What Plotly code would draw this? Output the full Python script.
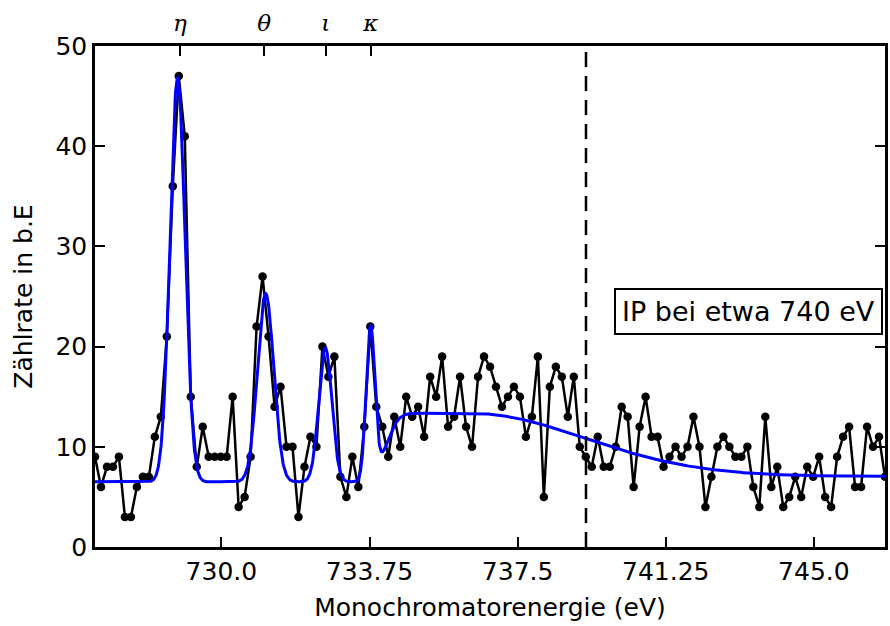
import math
import numpy as np
import plotly.graph_objects as go

# ---- measured data (counts per channel) ----
energy_start = 726.8
energy_stop = 746.8
counts = [9, 6, 8, 8, 9, 3, 3, 6, 7, 7,
          11, 13, 21, 36, 47, 41, 15, 8, 12, 9,
          9, 9, 9, 15, 4, 5, 9, 22, 27, 21,
          14, 16, 10, 10, 3, 8, 11, 10, 20, 17,
          19, 7, 5, 9, 6, 12, 22, 14, 12, 9,
          13, 10, 15, 13, 14, 11, 17, 15, 19, 12,
          13, 17, 12, 10, 17, 19, 18, 16, 14, 15,
          16, 15, 11, 13, 19, 5, 16, 18, 17, 13,
          17, 10, 9, 8, 11, 8, 8, 10, 14, 13,
          6, 12, 15, 11, 11, 8, 9, 10, 9, 10,
          13, 10, 4, 7, 10, 11, 10, 9, 9, 10,
          6, 4, 13, 6, 8, 4, 5, 7, 5, 8,
          7, 9, 5, 4, 9, 11, 12, 6, 6, 12,
          10, 11, 7]
energy = np.linspace(energy_start, energy_stop, len(counts))

# ---- fit parameters ----
fit_baseline = 6.5
peak_centers = [728.89, 731.12, 732.63, 733.775]
peak_heights = [40.3, 18.8, 13.4, 15.2]
peak_sigmas = [0.19, 0.205, 0.165, 0.11]
edge_position = 734.15
edge_width = 0.35
edge_step = 0.55
hump_height = 6.3
hump_center = 736.3
hump_sigma = 2.9

# ---- annotations ----
peak_labels = ["η", "θ", "ι", "κ"]
peak_label_positions = [728.95, 731.08, 732.64, 733.78]
ip_energy = 739.23
ip_text = "IP bei etwa 740 eV"
ip_box_x = 743.35
ip_box_y = 23.5
x_tickvals = [730.0, 733.75, 737.5, 741.25, 745.0]
x_ticktext = ["730.0", "733.75", "737.5", "741.25", "745.0"]

fit_x = np.linspace(energy_start, energy_stop, 2000)
fit_y = np.full_like(fit_x, fit_baseline)
for c, h, s in zip(peak_centers, peak_heights, peak_sigmas):
    fit_y += h * np.exp(-(fit_x - c) ** 2 / (2 * s ** 2))
step = 0.5 * (1 + np.array([math.erf((e - edge_position) / edge_width) for e in fit_x]))
decay = np.where(fit_x < hump_center, 1.0,
                 np.exp(-(fit_x - hump_center) ** 2 / (2 * hump_sigma ** 2)))
fit_y += step * (edge_step + hump_height * decay)

FONT = "DejaVu Sans"
fig = go.Figure()
fig.add_trace(go.Scatter(x=energy, y=counts, mode="lines+markers",
                         line=dict(color="black", width=2.5),
                         marker=dict(color="black", size=8.5),
                         showlegend=False, hoverinfo="skip"))
fig.add_trace(go.Scatter(x=fit_x, y=fit_y, mode="lines",
                         line=dict(color="#0000ff", width=3),
                         showlegend=False, hoverinfo="skip"))
fig.add_trace(go.Scatter(x=peak_label_positions, y=[None] * 4, xaxis="x2",
                         mode="markers", showlegend=False, hoverinfo="skip"))

fig.add_shape(type="line", xref="x", yref="paper", x0=ip_energy, x1=ip_energy,
              y0=0, y1=1, line=dict(color="black", width=2.5, dash="15px,9px"))

fig.add_annotation(x=ip_box_x, y=ip_box_y, xref="x", yref="y", text=ip_text,
                   showarrow=False, font=dict(family=FONT, size=27, color="black"),
                   bordercolor="black", borderwidth=2, borderpad=6,
                   bgcolor="white", xanchor="center", yanchor="middle")

axis_common = dict(showgrid=False, zeroline=False, ticks="inside", ticklen=10,
                   tickwidth=1.5, tickcolor="black",
                   tickfont=dict(family=FONT, size=25, color="black"))

fig.update_layout(
    width=890, height=626,
    margin=dict(l=95, r=2, t=46, b=79),
    paper_bgcolor="white", plot_bgcolor="white",
    xaxis=dict(range=[energy_start, energy_stop], tickmode="array",
               tickvals=x_tickvals, ticktext=x_ticktext,
               showline=True, linewidth=2.5, linecolor="black", mirror=True,
               title=dict(text="Monochromatorenergie (eV)",
                          font=dict(family=FONT, size=25, color="black"), standoff=14),
               **axis_common),
    xaxis2=dict(range=[energy_start, energy_stop], overlaying="x", side="top",
                tickmode="array", tickvals=peak_label_positions,
                ticktext=["<i>%s</i>" % s for s in peak_labels],
                showline=False, ticklabelstandoff=9,
                **{**axis_common, "tickfont": dict(family="DejaVu Serif", size=23, color="black")}),
    yaxis=dict(range=[0, 50], tickmode="array", tickvals=[0, 10, 20, 30, 40, 50],
               showline=True, linewidth=2.5, linecolor="black", mirror="ticks",
               title=dict(text="Zählrate in b.E",
                          font=dict(family=FONT, size=25, color="black"), standoff=16),
               **axis_common),
)

fig.write_html("out.html")
